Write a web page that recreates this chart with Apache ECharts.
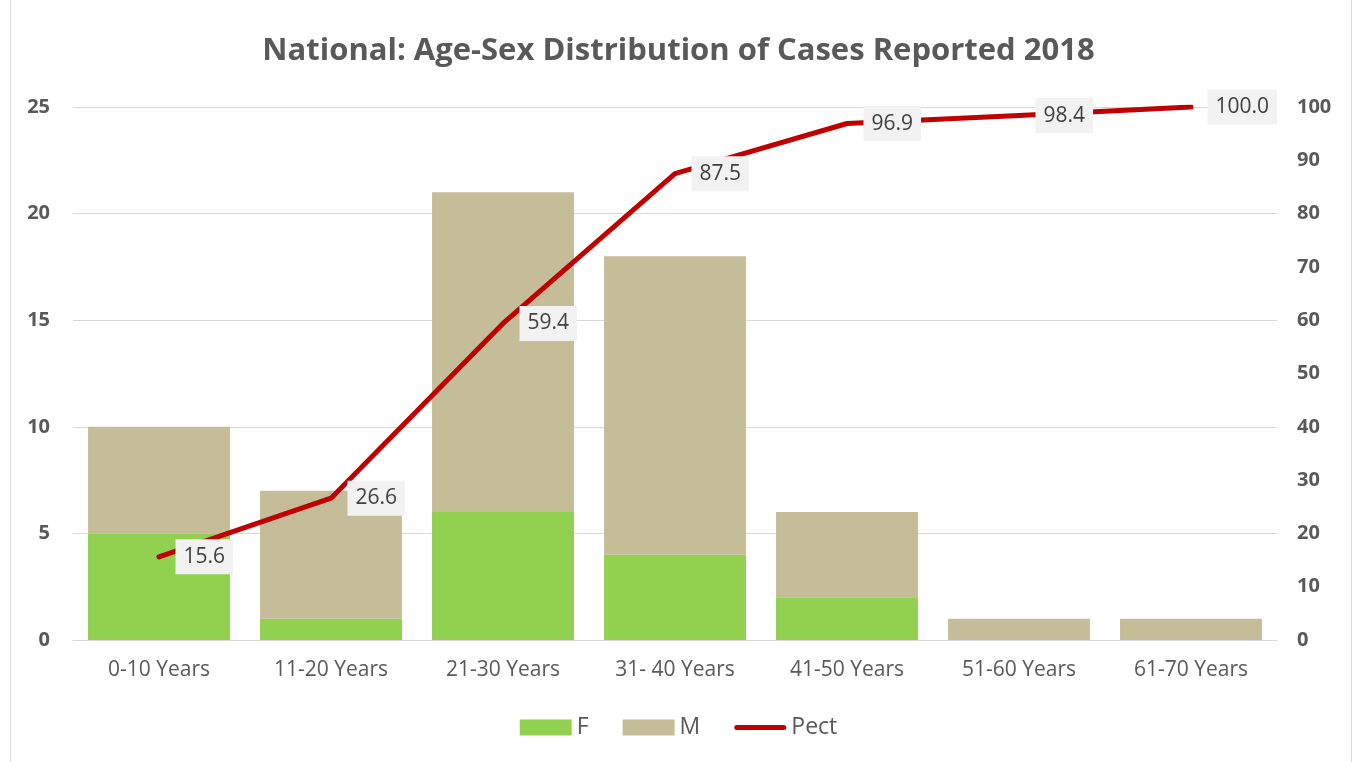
<!DOCTYPE html>
<html><head><meta charset="utf-8">
<script src="https://cdn.jsdelivr.net/npm/echarts@6/dist/echarts.min.js"></script>
<style>html,body{margin:0;padding:0;background:#fff}#c{width:1357px;height:762px}</style>
</head><body><div id="c"></div>
<script>
var categories = ['0-10 Years','11-20 Years','21-30 Years','31- 40 Years','41-50 Years','51-60 Years','61-70 Years'];
var femaleValues = [5, 1, 6, 4, 2, 0, 0];
var maleValues = [5, 6, 15, 14, 4, 1, 1];
var pectValues = [15.6, 26.6, 59.4, 87.5, 96.9, 98.4, 100.0];
var leftTicks = {min: 0, max: 25, interval: 5};
var rightTicks = {min: 0, max: 100, interval: 10};

var FONT = '"Open Sans", sans-serif';
var chart = echarts.init(document.getElementById('c'));
chart.setOption({
  animation: false,
  textStyle: {fontFamily: FONT},
  title: {
    text: 'National: Age-Sex Distribution of Cases Reported 2018',
    left: 'center', top: 31,
    textStyle: {fontFamily: FONT, fontSize: 31, fontWeight: 'bold', color: '#595959'}
  },
  graphic: [
    {type: 'line', shape: {x1: 10.5, y1: 0, x2: 10.5, y2: 762}, style: {stroke: '#d9d9d9', lineWidth: 1}},
    {type: 'line', shape: {x1: 1351.5, y1: 0, x2: 1351.5, y2: 762}, style: {stroke: '#d9d9d9', lineWidth: 1}}
  ],
  legend: {
    bottom: 18, left: 'center',
    itemWidth: 52, itemHeight: 16, itemGap: 34,
    textStyle: {fontFamily: FONT, fontSize: 23, color: '#595959'},
    data: [
      {name: 'F', icon: 'rect'},
      {name: 'M', icon: 'rect'},
      {name: 'Pect', icon: 'path://M2.5,0 L49.5,0 A2.5,2.5 0 0 1 49.5,5 L2.5,5 A2.5,2.5 0 0 1 2.5,0 Z'}
    ]
  },
  grid: {left: 73, right: 80, top: 107, bottom: 122},
  xAxis: {
    type: 'category', data: categories,
    axisTick: {show: false},
    axisLine: {lineStyle: {color: '#d9d9d9', width: 1}},
    axisLabel: {fontFamily: FONT, fontSize: 21, color: '#595959', margin: 20}
  },
  yAxis: [
    {type: 'value', min: leftTicks.min, max: leftTicks.max, interval: leftTicks.interval,
     axisLine: {show: false}, axisTick: {show: false},
     splitLine: {lineStyle: {color: '#d9d9d9', width: 1}},
     axisLabel: {fontFamily: FONT, fontSize: 20, fontWeight: 'bold', color: '#595959', margin: 23}},
    {type: 'value', min: rightTicks.min, max: rightTicks.max, interval: rightTicks.interval,
     position: 'right',
     axisLine: {show: false}, axisTick: {show: false}, splitLine: {show: false},
     axisLabel: {fontFamily: FONT, fontSize: 20, fontWeight: 'bold', color: '#595959', margin: 20}}
  ],
  series: [
    {name: 'F', type: 'bar', stack: 'a', data: femaleValues, barWidth: '82.5%',
     itemStyle: {color: '#92d050'}},
    {name: 'M', type: 'bar', stack: 'a', data: maleValues, barWidth: '82.5%',
     itemStyle: {color: '#c4bd97'}},
    {name: 'Pect', type: 'line', yAxisIndex: 1, data: pectValues,
     showSymbol: true, symbol: 'circle', symbolSize: 1,
     lineStyle: {color: '#c00000', width: 5, cap: 'round', join: 'round'},
     itemStyle: {color: '#c00000'},
     label: {show: true, position: 'right', distance: 16,
       formatter: function(p){ return p.value.toFixed(1); },
       backgroundColor: '#f2f2f2', padding: [8, 8, 6, 8],
       fontFamily: FONT, fontSize: 21, color: '#404040'},
     labelLayout: {hideOverlap: false},
     z: 5}
  ]
});
</script></body></html>
